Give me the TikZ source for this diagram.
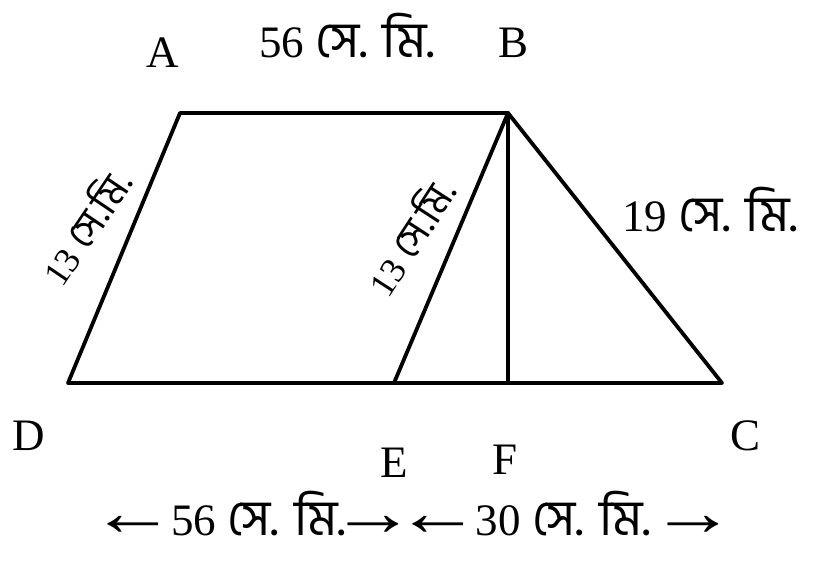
\documentclass[tikz,border=0pt]{standalone}
\usepackage{graphicx}
\usepackage{fontspec}
\setmainfont{Liberation Serif}
\newfontfamily\bn[Script=Bengali,Scale=1.12]{Hind Siliguri}
\newcommand{\lar}{\kern-16pt\scalebox{1.9}[1.5]{←}\kern-16pt}
\newcommand{\rar}{\kern-16pt\scalebox{1.9}[1.5]{→}\kern-16pt}
\begin{document}
\begin{tikzpicture}[x=1pt,y=-1pt,
  edge/.style={line width=3.8pt,line join=round,line cap=round},
  lbl/.style={font=\fontsize{45}{48}\selectfont,inner sep=0pt,anchor=base},
  slbl/.style={font=\fontsize{36}{40}\selectfont,inner sep=0pt}]
\useasboundingbox (0,0) rectangle (824,577);
\coordinate (A) at (180,113);
\coordinate (B) at (508,113);
\coordinate (C) at (722,383);
\coordinate (D) at (68,383);
\coordinate (E) at (394,383);
\coordinate (F) at (508,383);
\draw[edge] (A) -- (B) -- (C) -- (D) -- cycle;
\draw[edge] (B) -- (E);
\draw[edge] (B) -- (F);
\node[lbl] (lA) at (163,68) {A};
\node[lbl] (lB) at (513,58) {B};
\node[lbl] (lC) at (745,450) {C};
\node[lbl] (lD) at (29,450) {D};
\node[lbl] (lE) at (394,477) {E};
\node[lbl] (lF) at (505,474) {F};
\node[lbl] (top) at (347,58) {56 {\bn সে. মি.}};
\node[lbl] (bc) at (710,232) {19 {\bn সে. মি.}};
\node[slbl,rotate=56] (ad) at (84,226) {13 {\bn সে.মি.}};
\node[slbl,rotate=57] (be) at (409,236) {13 {\bn সে.মি.}};
\node[lbl] (bottom) at (413,535) {\lar{} 56 {\bn সে. মি.}\rar{} \lar{} 30 {\bn সে. মি.} \rar};
\end{tikzpicture}
\end{document}
